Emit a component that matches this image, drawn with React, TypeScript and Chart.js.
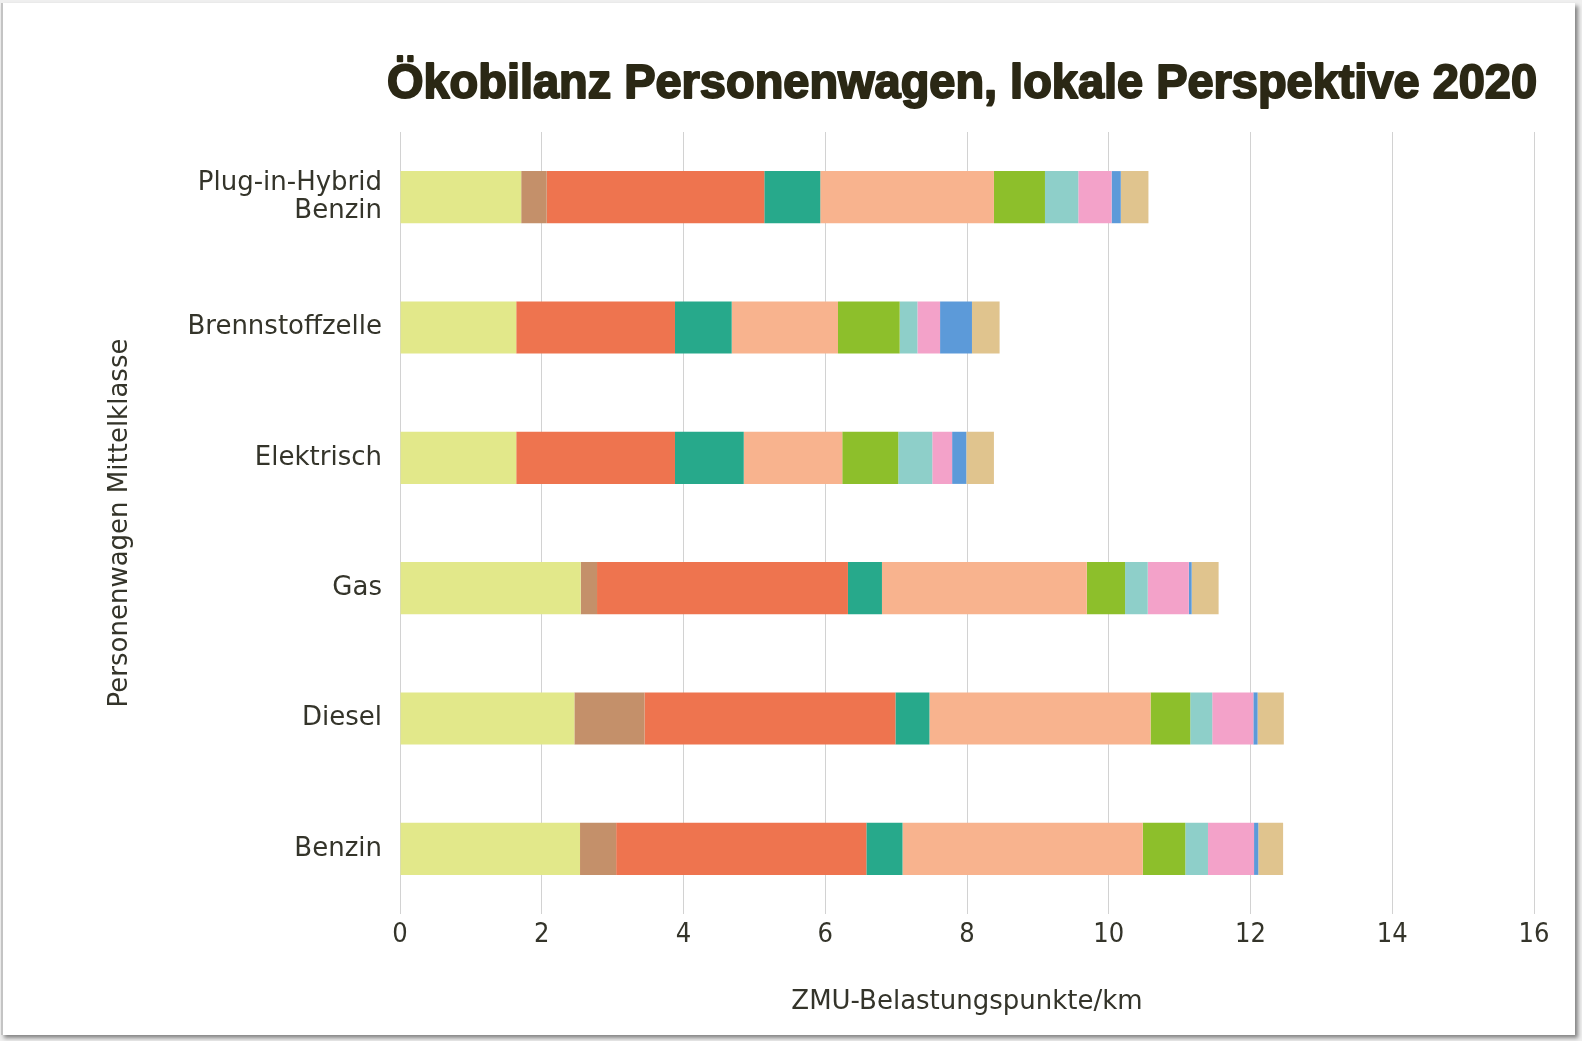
import React, { useEffect, useRef } from "react";
import { Chart, registerables } from "chart.js";

Chart.register(...registerables);

const TITLE = "Ökobilanz Personenwagen, lokale Perspektive 2020";
const X_TITLE = "ZMU-Belastungspunkte/km";
const Y_TITLE = "Personenwagen Mittelklasse";

const categories: (string | string[])[] = [
  ["Plug-in-Hybrid", "Benzin"],
  "Brennstoffzelle",
  "Elektrisch",
  "Gas",
  "Diesel",
  "Benzin",
];

const xTicks = [0, 2, 4, 6, 8, 10, 12, 14, 16];

const series1 = [1.71, 1.64, 1.64, 2.55, 2.46, 2.54];
const series2 = [0.36, 0, 0, 0.23, 0.99, 0.51];
const series3 = [3.07, 2.24, 2.24, 3.54, 3.54, 3.53];
const series4 = [0.79, 0.8, 0.97, 0.48, 0.48, 0.51];
const series5 = [2.45, 1.5, 1.39, 2.89, 3.12, 3.39];
const series6 = [0.72, 0.87, 0.79, 0.54, 0.56, 0.6];
const series7 = [0.47, 0.25, 0.48, 0.32, 0.31, 0.32];
const series8 = [0.47, 0.32, 0.28, 0.58, 0.58, 0.65];
const series9 = [0.13, 0.45, 0.2, 0.04, 0.06, 0.06];
const series10 = [0.39, 0.39, 0.39, 0.38, 0.37, 0.35];

const seriesValues = [
  series1, series2, series3, series4, series5,
  series6, series7, series8, series9, series10,
];
const seriesNames = [
  "Komponente 1", "Komponente 2", "Komponente 3", "Komponente 4", "Komponente 5",
  "Komponente 6", "Komponente 7", "Komponente 8", "Komponente 9", "Komponente 10",
];
const seriesColors = [
  "#e2e88a", "#c4906a", "#ee744f", "#27a98b", "#f8b38e",
  "#8dbf2b", "#8ecfc9", "#f3a2c9", "#5c9ad9", "#e0c48e",
];

const TEXT_COLOR = "#34342a";
const LABEL_FONT = "'DejaVu Sans', 'Liberation Sans', sans-serif";

const titlePlugin = {
  id: "customTitle",
  afterDraw(chart: any) {
    const ctx = chart.ctx as CanvasRenderingContext2D;
    ctx.save();
    ctx.font = "bold 48px 'Liberation Sans Narrow', 'Liberation Sans', Arial, sans-serif";
    const w = ctx.measureText(TITLE).width;
    const target = 1150;
    const sx = target / w;
    ctx.translate(962, 98);
    ctx.scale(sx, 1);
    ctx.textAlign = "center";
    ctx.textBaseline = "alphabetic";
    ctx.fillStyle = "#2b2815";
    ctx.strokeStyle = "#2b2815";
    ctx.lineWidth = 2;
    ctx.lineJoin = "round";
    ctx.fillText(TITLE, 0, 0);
    ctx.strokeText(TITLE, 0, 0);
    ctx.restore();
  },
};

export default function App() {
  const ref = useRef<HTMLCanvasElement | null>(null);

  useEffect(() => {
    if (!ref.current) return;
    const chart = new Chart(ref.current, {
      type: "bar",
      data: {
        labels: categories as any,
        datasets: seriesValues.map((vals, i) => ({
          label: seriesNames[i],
          data: vals,
          backgroundColor: seriesColors[i],
          borderWidth: 0,
          barPercentage: 0.4,
          categoryPercentage: 1,
        })),
      },
      options: {
        indexAxis: "y",
        animation: false,
        responsive: false,
        maintainAspectRatio: false,
        layout: { padding: { top: 132, right: 48, bottom: 0, left: 0 } },
        plugins: {
          legend: { display: false },
          title: { display: false },
          tooltip: { enabled: false },
        },
        scales: {
          x: {
            stacked: true,
            min: 0,
            max: 16,
            afterBuildTicks: (scale: any) => {
              scale.ticks = xTicks.map((v) => ({ value: v }));
            },
            afterFit: (scale: any) => {
              scale.height = 1041 - 914;
            },
            grid: { color: "#d2d2d2", lineWidth: 1, drawTicks: false },
            border: { display: false },
            ticks: {
              color: TEXT_COLOR,
              padding: 5,
              font: { family: "'Liberation Sans Narrow', 'DejaVu Sans Condensed', 'Liberation Sans', sans-serif", size: 27 },
            },
            title: {
              display: true,
              text: X_TITLE,
              color: TEXT_COLOR,
              font: { family: LABEL_FONT, size: 26 },
              padding: { top: 0, bottom: 23 },
            },
          },
          y: {
            stacked: true,
            afterFit: (scale: any) => {
              scale.width = 400;
            },
            grid: { display: false, drawTicks: false },
            border: { display: false },
            ticks: {
              color: TEXT_COLOR,
              padding: 18,
              font: { family: LABEL_FONT, size: 26, lineHeight: 1.1 },
            },
            title: {
              display: true,
              text: Y_TITLE,
              color: TEXT_COLOR,
              font: { family: LABEL_FONT, size: 26 },
              padding: { top: 105, bottom: 0 },
            },
          },
        },
      },
      plugins: [titlePlugin],
    });
    return () => chart.destroy();
  }, []);

  return (
    <div style={{ position: "fixed", left: 0, top: 0, width: 1582, height: 1041, background: "#efefef", overflow: "hidden" }}>
      <div
        style={{
          position: "absolute",
          left: 1,
          top: 3,
          width: 1572,
          height: 1032,
          background: "#ffffff",
          borderLeft: "2px solid #c4c4c4",
          boxShadow: "3px 3px 4px rgba(0,0,0,0.45)",
        }}
      />
      <canvas ref={ref} width={1582} height={1041} style={{ position: "absolute", left: 0, top: 0, width: 1582, height: 1041 }} />
    </div>
  );
}
